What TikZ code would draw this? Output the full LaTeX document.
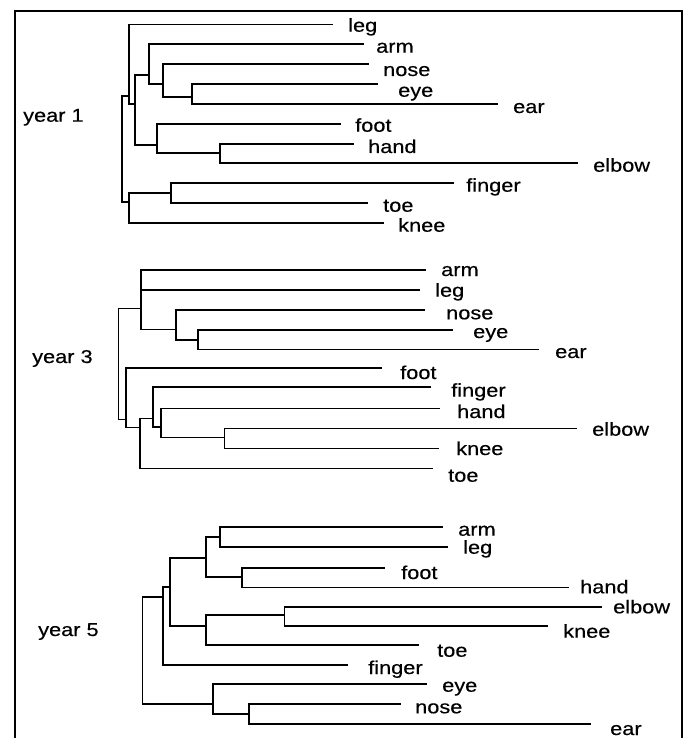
\documentclass[tikz,border=0pt]{standalone}
\usepackage{fontspec}
\setmainfont{Liberation Sans}[FakeStretch=1.17,FakeBold=0.4]
\tikzset{
  dline/.style={line width=1.6pt, line cap=rect, black},
  frame/.style={line width=2.6pt, line cap=rect, line join=miter, black},
  leaflabel/.style={anchor=base west, inner sep=0pt, font=\fontsize{18.6}{20}\selectfont},
  yearlabel/.style={anchor=base west, inner sep=0pt, font=\fontsize{18.6}{20}\selectfont}
}
% #1 name, #2 x start, #3 x end, #4 y, #5 label x, #6 label baseline, #7 text
\newcommand\dleaf[7]{%
  \coordinate (#1s) at (#2,#4);
  \coordinate (#1e) at (#3,#4);
  \draw[dline] (#1s) -- (#1e);
  \node[leaflabel] (#1) at (#5,#6) {#7};}
% join: #1 x, #2 y top, #3 y bottom
\newcommand\djoin[3]{\draw[dline] (#1,#2) -- (#1,#3);}
% link: #1 y, #2 x0, #3 x1
\newcommand\dlink[3]{\draw[dline] (#2,#1) -- (#3,#1);}
\begin{document}
\begin{tikzpicture}[x=1pt,y=-1pt]
\useasboundingbox (0,0) rectangle (688,738);
% frame
\coordinate (fbl) at (15,740);
\coordinate (ftl) at (15,11);
\coordinate (ftr) at (682,11);
\coordinate (fbr) at (682,740);
\draw[frame] (fbl) -- (ftl) -- (ftr) -- (fbr);

% ---------------- year 1 ----------------
\node[yearlabel] (y1) at (23,121.7) {year 1};
\dleaf{a1}{129}{332}{24.5}{348}{31.7}{leg}
\dleaf{b1}{149}{363}{44}{376}{52.7}{arm}
\dleaf{c1}{163}{368}{64}{383}{76}{nose}
\dleaf{d1}{192}{377}{84}{398}{96.7}{eye}
\dleaf{e1}{192}{497}{104}{513}{113}{ear}
\dleaf{f1}{157}{340}{124}{355}{131.7}{foot}
\dleaf{g1}{220}{353}{144}{368}{153}{hand}
\dleaf{h1}{220}{577}{163}{593}{171.7}{elbow}
\dleaf{i1}{171}{453}{183}{466}{191.7}{finger}
\dleaf{j1}{171}{367}{203}{383}{211.7}{toe}
\dleaf{k1}{129}{383}{223}{398}{231.7}{knee}
\djoin{192}{84}{104}   \dlink{97}{163}{192}
\djoin{163}{64}{97}    \dlink{84}{149}{163}
\djoin{149}{44}{84}    \dlink{75}{135}{149}
\djoin{220}{144}{163}  \dlink{153}{157}{220}
\djoin{157}{124}{153}  \dlink{145}{135}{157}
\djoin{135}{75}{145}   \dlink{104}{129}{135}
\djoin{129}{24.5}{104} \dlink{96}{122}{129}
\djoin{171}{183}{203}  \dlink{193}{129}{171}
\djoin{129}{193}{223}  \dlink{202}{122}{129}
\djoin{122}{96}{202}

% ---------------- year 3 ----------------
\node[yearlabel] (y3) at (32,363) {year 3};
\dleaf{a3}{140.7}{425}{270}{441}{276}{arm}
\dleaf{b3}{140.7}{419}{290}{435}{296.7}{leg}
\dleaf{c3}{176}{424}{310}{446}{319.3}{nose}
\dleaf{d3}{197.7}{452}{330}{473}{338}{eye}
\dleaf{e3}{197.7}{538}{349.3}{555}{358}{ear}
\dleaf{f3}{126}{381}{368}{400}{379}{foot}
\dleaf{g3}{152.7}{430}{387}{451}{396.7}{finger}
\dleaf{h3}{161}{439}{408.3}{457}{418}{hand}
\dleaf{i3}{224.3}{576}{428.3}{592}{435.7}{elbow}
\dleaf{j3}{224.3}{438}{448.3}{456}{455}{knee}
\dleaf{k3}{140}{432}{468.3}{448}{481.7}{toe}
\djoin{197.7}{330}{349.3}  \dlink{340}{176}{197.7}
\djoin{176}{310}{340}      \dlink{329.3}{140.7}{176}
\djoin{140.7}{270}{329.3}  \dlink{308.3}{118.3}{140.7}
\djoin{224.3}{428.3}{448.3} \dlink{437.3}{161}{224.3}
\djoin{161}{408.3}{437.3}  \dlink{426.7}{152.7}{161}
\djoin{152.7}{387}{426.7}  \dlink{418.3}{140}{152.7}
\djoin{140}{418.3}{468.3}  \dlink{427.3}{126}{140}
\djoin{126}{368}{427.3}    \dlink{419.3}{118.3}{126}
\djoin{118.3}{308.3}{419.3}

% ---------------- year 5 ----------------
\node[yearlabel] (y5) at (38,636) {year 5};
\dleaf{a5}{220}{442}{526.7}{458}{535.7}{arm}
\dleaf{b5}{220}{447}{546.7}{463}{553.7}{leg}
\dleaf{c5}{241.7}{384}{567.7}{401}{579}{foot}
\dleaf{d5}{241.7}{568}{587.3}{580}{593.3}{hand}
\dleaf{e5}{284.3}{601}{606.7}{613}{613.3}{elbow}
\dleaf{f5}{284.3}{547}{626}{563}{637.7}{knee}
\dleaf{g5}{206}{418}{645}{437}{656.7}{toe}
\dleaf{h5}{162.7}{347}{665}{368}{674}{finger}
\dleaf{i5}{212.7}{426}{684}{442}{691.7}{eye}
\dleaf{j5}{249}{400}{704}{415}{713.3}{nose}
\dleaf{k5}{249}{590}{724}{610}{735}{ear}
\djoin{220}{526.7}{546.7}   \dlink{537}{206}{220}
\djoin{241.7}{567.7}{587.3} \dlink{576.7}{206}{241.7}
\djoin{206}{537}{576.7}     \dlink{557.7}{170}{206}
\djoin{284.3}{606.7}{626}   \dlink{615}{206}{284.3}
\djoin{206}{615}{645}       \dlink{625.7}{170}{206}
\djoin{170}{557.7}{625.7}   \dlink{586.7}{162.7}{170}
\djoin{162.7}{586.7}{665}   \dlink{596.7}{142.3}{162.7}
\djoin{249}{704}{724}       \dlink{714}{212.7}{249}
\djoin{212.7}{684}{714}     \dlink{704}{142.3}{212.7}
\djoin{142.3}{596.7}{704}
\end{tikzpicture}
\end{document}
